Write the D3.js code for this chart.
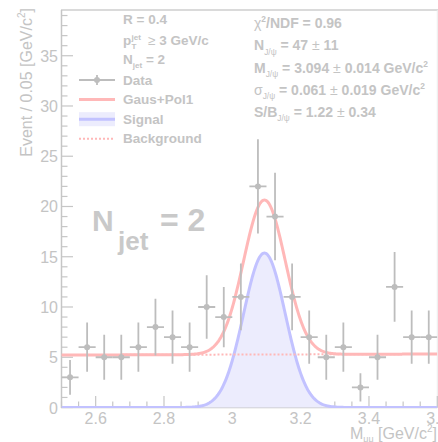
<!DOCTYPE html>
<html>
<head>
<meta charset="utf-8">
<script src="https://cdn.jsdelivr.net/npm/d3@7"></script>
<style>
body { margin: 0; background: #fff; }
svg { display: block; font-family: 'Liberation Sans', Arial, sans-serif; }
</style>
</head>
<body>
<div id="main"></div>
<script>
// data
const binCenters = [2.525, 2.575, 2.625, 2.675, 2.725, 2.775, 2.825, 2.875, 2.925, 2.975, 3.025,
                    3.075, 3.125, 3.175, 3.225, 3.275, 3.325, 3.375, 3.425, 3.475, 3.525, 3.575];
const counts = [3, 6, 5, 5, 6, 8, 7, 6, 10, 9, 11, 22, 19, 11, 7, 5, 6, 2, 5, 12, 7, 7];
const binWidth = 0.05;
// fit parameters (from the stat box)
const massMean = 3.094;
const massSigma = 0.061;
const signalYield = 47;
const bkgEnds = [[2.5, 5.22], [3.6, 5.32]];   // Pol1 end points
const yMajorTicks = [0, 5, 10, 15, 20, 25, 30, 35];
const xMajorTicks = [2.6, 2.8, 3.0, 3.2, 3.4, 3.6];
const legendRows = ['Data', 'Gaus+Pol1', 'Signal', 'Background'];

const W = 438, H = 442;
const C_AXIS = '#c6c6c6', C_TEXT = '#c4c4c4', C_DATA = '#bdbdbd';
const C_RED = '#ffb8b8', C_BLUE = '#c2c2ff', C_FILL = '#ececfd';

const svg = d3.select('#main').append('svg').attr('width', W).attr('height', H);

const x = d3.scaleLinear().domain([2.5, 3.6]).range([61.5, 437.3]);
const y = d3.scaleLinear().domain([0, 39.55]).range([407.5, 10]);

svg.append('defs').append('clipPath').attr('id', 'plot')
    .append('rect').attr('x', 61.5).attr('y', 10).attr('width', 376).attr('height', 398);

// frame
svg.append('line').attr('x1', 61).attr('x2', 438).attr('y1', 10).attr('y2', 10)
    .attr('stroke', '#dadada').attr('stroke-width', 2);
svg.append('line').attr('x1', 437.3).attr('x2', 437.3).attr('y1', 10).attr('y2', 408)
    .attr('stroke', '#ececec').attr('stroke-width', 1);

// y axis
const yAxis = svg.append('g').attr('stroke', C_AXIS);
yAxis.append('line').attr('x1', 61.5).attr('x2', 61.5).attr('y1', 10).attr('y2', 408).attr('stroke-width', 1.5);
yAxis.selectAll('.minor').data(d3.range(0, 40, 1)).join('line')
    .attr('x1', 61.5).attr('x2', (d) => d % 5 === 0 ? 73 : 67.5)
    .attr('y1', (d) => y(d)).attr('y2', (d) => y(d)).attr('stroke-width', 1.2);
svg.append('g').selectAll('text').data(yMajorTicks).join('text')
    .attr('x', 58).attr('y', (d) => y(d) + 6).attr('text-anchor', 'end')
    .attr('font-size', 16).attr('fill', C_TEXT).text((d) => d);

// x axis
const xAxis = svg.append('g').attr('stroke', C_AXIS);
xAxis.append('line').attr('x1', 61).attr('x2', 437.3).attr('y1', 407.5).attr('y2', 407.5).attr('stroke-width', 1.5);
xAxis.selectAll('.tick').data(d3.range(0, 23)).join('line')
    .attr('x1', (i) => x(2.5 + i * 0.05)).attr('x2', (i) => x(2.5 + i * 0.05))
    .attr('y1', 407.5).attr('y2', (i) => i % 4 === 2 ? 396 : 401.5).attr('stroke-width', 1.2);
svg.append('g').selectAll('text').data(xMajorTicks).join('text')
    .attr('x', (d) => x(d)).attr('y', 424).attr('text-anchor', 'middle')
    .attr('font-size', 16).attr('fill', C_TEXT).text((d) => String(+d.toFixed(1)));

// axis titles
const yTitle = svg.append('text').attr('transform', 'translate(32,8) rotate(-90)')
    .attr('text-anchor', 'end').attr('font-size', 16).attr('fill', C_TEXT);
yTitle.append('tspan').text('Event / 0.05 [GeV/c');
yTitle.append('tspan').attr('font-size', 10).attr('dy', -7).text('2');
yTitle.append('tspan').attr('dy', 7).text(']');

const xTitle = svg.append('text').attr('x', 437).attr('y', 439)
    .attr('text-anchor', 'end').attr('font-size', 16).attr('fill', C_TEXT);
xTitle.append('tspan').text('M');
xTitle.append('tspan').attr('font-size', 9).attr('dy', 3).text('μμ');
xTitle.append('tspan').attr('dy', -3).text(' [GeV/c');
xTitle.append('tspan').attr('font-size', 10).attr('dy', -7).text('2');
xTitle.append('tspan').attr('dy', 7).text(']');

// fit curves
const amp = signalYield * binWidth / (massSigma * Math.sqrt(2 * Math.PI));
const signal = (m) => amp * Math.exp(-0.5 * ((m - massMean) / massSigma) ** 2);
const bkgSlope = (bkgEnds[1][1] - bkgEnds[0][1]) / (bkgEnds[1][0] - bkgEnds[0][0]);
const bkg = (m) => bkgEnds[0][1] + bkgSlope * (m - bkgEnds[0][0]);
const grid = d3.range(2.5, 3.6001, 0.002);

const plot = svg.append('g').attr('clip-path', 'url(#plot)');
plot.append('path').datum(grid)
    .attr('d', d3.area().x((m) => x(m)).y0(y(0)).y1((m) => y(signal(m))))
    .attr('fill', C_FILL);
plot.append('path').datum(grid)
    .attr('d', d3.line().x((m) => x(m)).y((m) => y(signal(m))))
    .attr('fill', 'none').attr('stroke', C_BLUE).attr('stroke-width', 3);
plot.append('path').datum(grid)
    .attr('d', d3.line().x((m) => x(m)).y((m) => y(bkg(m))))
    .attr('fill', 'none').attr('stroke', C_RED).attr('stroke-width', 2).attr('stroke-dasharray', '2,2');
plot.append('path').datum(grid)
    .attr('d', d3.line().x((m) => x(m)).y((m) => y(signal(m) + bkg(m))))
    .attr('fill', 'none').attr('stroke', C_RED).attr('stroke-width', 3);

// data points with sqrt(N) errors
const pts = plot.selectAll('.pt').data(binCenters.map((c, i) => ({c, n: counts[i]}))).join('g');
pts.append('line')
    .attr('x1', (d) => x(d.c)).attr('x2', (d) => x(d.c))
    .attr('y1', (d) => y(d.n - Math.sqrt(d.n))).attr('y2', (d) => y(d.n + Math.sqrt(d.n)))
    .attr('stroke', C_DATA).attr('stroke-width', 1.8);
pts.append('line')
    .attr('x1', (d) => x(d.c - binWidth / 2)).attr('x2', (d) => x(d.c + binWidth / 2))
    .attr('y1', (d) => y(d.n)).attr('y2', (d) => y(d.n))
    .attr('stroke', C_DATA).attr('stroke-width', 1.8);
pts.append('circle').attr('cx', (d) => x(d.c)).attr('cy', (d) => y(d.n)).attr('r', 3)
    .attr('fill', C_DATA);

// rich text helper: parts = [text, 'sub'|'sup'|'' , weight]
const rich = (px, py, parts, size) => {
    const t = svg.append('text').attr('x', px).attr('y', py).attr('font-size', size)
        .attr('font-weight', 'bold').attr('fill', C_TEXT);
    let off = 0;
    parts.forEach(([s, kind, w]) => {
        const target = kind === 'sub' ? size * 0.3 : kind === 'sup' ? -size * 0.4 : 0;
        const ts = t.append('tspan').attr('dy', target - off).text(s);
        if (kind) ts.attr('font-size', size * 0.6);
        if (w) ts.attr('font-weight', w);
        off = target;
    });
    return t;
};

// left legend header
rich(123, 24, [['R = 0.4']], 13.5);
rich(123, 45, [['p']], 13.5);
rich(131.5, 45, [['jet', 'sup']], 13.5);
rich(131.5, 45, [['T', 'sub']], 13.5);
rich(148, 45, [['≥', '', 'normal'], [' 3 GeV/c']], 13.5);
rich(123, 64, [['N'], ['jet', 'sub'], [' = 2']], 13.5);

// legend entries
const legY = (i) => 80 + i * 19.6;
const leg = svg.append('g');
leg.selectAll('text').data(legendRows).join('text')
    .attr('x', 123).attr('y', (d, i) => legY(i) + 4.5).attr('font-size', 13.5)
    .attr('font-weight', 'bold').attr('fill', C_TEXT).text((d) => d);
leg.append('line').attr('x1', 79).attr('x2', 115).attr('y1', legY(0)).attr('y2', legY(0))
    .attr('stroke', C_DATA).attr('stroke-width', 1.8);
leg.append('line').attr('x1', 97).attr('x2', 97).attr('y1', legY(0) - 5).attr('y2', legY(0) + 5)
    .attr('stroke', C_DATA).attr('stroke-width', 1.8);
leg.append('circle').attr('cx', 97).attr('cy', legY(0)).attr('r', 3).attr('fill', C_DATA);
leg.append('line').attr('x1', 79).attr('x2', 115).attr('y1', legY(1)).attr('y2', legY(1))
    .attr('stroke', C_RED).attr('stroke-width', 3);
leg.append('rect').attr('x', 79).attr('y', legY(2) - 7).attr('width', 36).attr('height', 14)
    .attr('fill', C_FILL);
leg.append('line').attr('x1', 79).attr('x2', 115).attr('y1', legY(2)).attr('y2', legY(2))
    .attr('stroke', C_BLUE).attr('stroke-width', 3);
leg.append('line').attr('x1', 79).attr('x2', 115).attr('y1', legY(3)).attr('y2', legY(3))
    .attr('stroke', C_RED).attr('stroke-width', 2).attr('stroke-dasharray', '2,2');

// fit stat box
const statRows = [
    [['χ', '', 'normal'], ['2', 'sup'], ['/NDF = 0.96']],
    [['N'], ['J/ψ', 'sub', 'normal'], [' = 47 '], ['±', '', 'normal'], [' 11']],
    [['M'], ['J/ψ', 'sub', 'normal'], [' = 3.094 '], ['±', '', 'normal'], [' 0.014 GeV/c'], ['2', 'sup']],
    [['σ', '', 'normal'], ['J/ψ', 'sub', 'normal'], [' = 0.061 '], ['±', '', 'normal'], [' 0.019 GeV/c'], ['2', 'sup']],
    [['S/B'], ['J/ψ', 'sub', 'normal'], [' = 1.22 '], ['±', '', 'normal'], [' 0.34']]
];
statRows.forEach((parts, i) => rich(254, 28 + i * 22.3, parts, 14));

// big label
const big = svg.append('g').attr('fill', '#c9c9c9').attr('font-weight', 'bold');
big.append('text').attr('x', 92).attr('y', 231).attr('font-size', 30).text('N');
big.append('text').attr('x', 118).attr('y', 250).attr('font-size', 26).text('jet');
big.append('text').attr('x', 160).attr('y', 231).attr('font-size', 32).text('= 2');
</script>
</body>
</html>
